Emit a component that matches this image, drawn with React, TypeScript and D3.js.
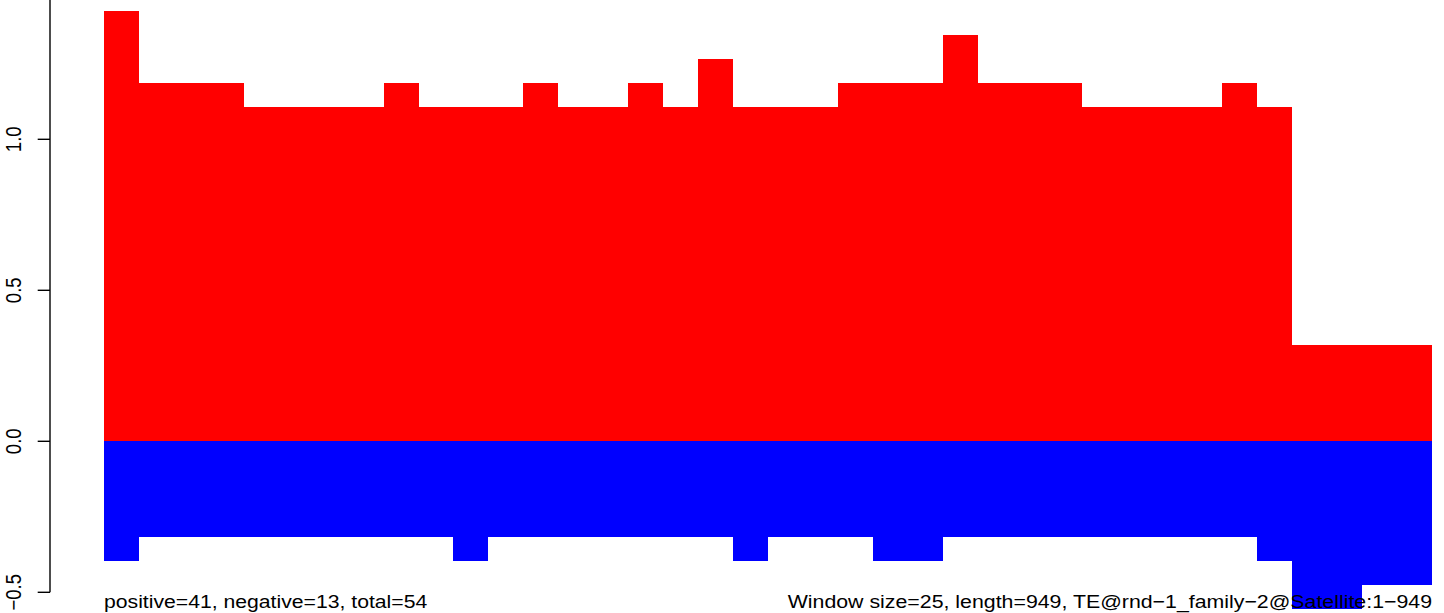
import React from "react";
import * as d3 from "d3";

// Window data: each window spans 25 positions along a 949-long sequence
const windowSize = 25;
const positiveValues = [
  1.425, 1.187, 1.187, 1.187, 1.107, 1.107, 1.107, 1.107, 1.187, 1.107,
  1.107, 1.107, 1.187, 1.107, 1.107, 1.187, 1.107, 1.266, 1.107, 1.107,
  1.107, 1.187, 1.187, 1.187, 1.346, 1.187, 1.187, 1.187, 1.107, 1.107,
  1.107, 1.107, 1.187, 1.107, 0.318, 0.318, 0.318, 0.318,
];
const negativeValues = [
  -0.396, -0.317, -0.317, -0.317, -0.317, -0.317, -0.317, -0.317, -0.317, -0.317,
  -0.396, -0.317, -0.317, -0.317, -0.317, -0.317, -0.317, -0.317, -0.396, -0.317,
  -0.317, -0.317, -0.396, -0.396, -0.317, -0.317, -0.317, -0.317, -0.317, -0.317,
  -0.317, -0.317, -0.317, -0.396, -0.554, -0.554, -0.475, -0.475,
];
const yTicks = [-0.5, 0.0, 0.5, 1.0, 1.5];
const leftCaption = "positive=41, negative=13, total=54";
const rightCaption = "Window size=25, length=949, TE@rnd\u22121_family\u22122@Satellite:1\u2212949";

const W = 1444;
const H = 613;
const SX = 1.146; // horizontal stretch of glyphs
const FS = 18.5;
const FONT = "'Liberation Sans', Arial, Helvetica, sans-serif";

export default function App() {
  const nWin = positiveValues.length;
  const x = d3.scaleLinear().domain([0, nWin * windowSize]).range([104.06, 1431.8]);
  const y = d3.scaleLinear().domain([-0.5, 1.0]).range([592.3, 139.3]);
  const axisX = 50;
  const tickLen = 12.3;
  const fmt = d3.format(".1f");
  const label = (v: number) => fmt(v).replace("-", "\u2212");

  const bars = positiveValues.map((p, i) => {
    const x0 = Math.round(x(i * windowSize));
    const x1 = Math.round(x((i + 1) * windowSize));
    return { x0, x1, p, n: negativeValues[i] };
  });

  return (
    <svg
      width={W}
      height={H}
      viewBox={`0 0 ${W} ${H}`}
      style={{ position: "absolute", left: 0, top: 0, background: "#fff" }}
    >
      <rect x={0} y={0} width={W} height={H} fill="#fff" />
      <g shapeRendering="crispEdges">
        {bars.map((b, i) => (
          <rect
            key={"p" + i}
            x={b.x0}
            y={Math.round(y(b.p))}
            width={b.x1 - b.x0}
            height={Math.round(y(0)) - Math.round(y(b.p))}
            fill="#ff0000"
          />
        ))}
        {bars.map((b, i) => (
          <rect
            key={"n" + i}
            x={b.x0}
            y={Math.round(y(0))}
            width={b.x1 - b.x0}
            height={Math.round(y(b.n)) - Math.round(y(0))}
            fill="#0000ff"
          />
        ))}
      </g>
      <g stroke="#000" strokeWidth={1.4} fill="none">
        <line x1={axisX} x2={axisX} y1={y(yTicks[yTicks.length - 1])} y2={y(yTicks[0])} />
        {yTicks.map((t) => (
          <line key={t} x1={axisX - tickLen} x2={axisX} y1={y(t)} y2={y(t)} />
        ))}
      </g>
      <g fontFamily={FONT} fontSize={FS} fill="#000">
        {yTicks.map((t) => (
          <text
            key={t}
            transform={`translate(21,${y(t)}) scale(${SX},1) rotate(-90)`}
            textAnchor="middle"
          >
            {label(t)}
          </text>
        ))}
        <text transform={`translate(104,608.3) scale(${SX},1)`} textAnchor="start">
          {leftCaption}
        </text>
        <text transform={`translate(1432,608.3) scale(1.153,1)`} textAnchor="end">
          {rightCaption}
        </text>
      </g>
    </svg>
  );
}
